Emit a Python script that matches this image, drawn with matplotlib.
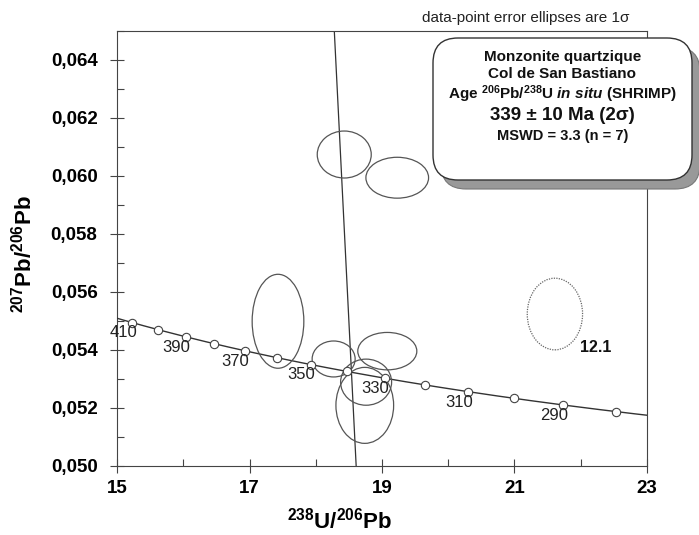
import numpy as np
import matplotlib
matplotlib.use("Agg")
import matplotlib.pyplot as plt
from matplotlib.patches import Ellipse, FancyBboxPatch
from matplotlib.ticker import FuncFormatter

plt.rcParams['font.family'] = ['Liberation Sans', 'DejaVu Sans']
plt.rcParams['mathtext.fontset'] = 'custom'
plt.rcParams['mathtext.rm'] = 'Liberation Sans:bold'
plt.rcParams['mathtext.bf'] = 'Liberation Sans:bold'
plt.rcParams['mathtext.it'] = 'Liberation Sans:italic:bold'

# decay constants (1/yr) and present-day 238U/235U
lam238 = 1.55125e-10
lam235 = 9.8485e-10
u_ratio = 137.88

# concordia: age marks (Ma) and the ones that get a label
mark_ages = [410, 400, 390, 380, 370, 360, 350, 340, 330, 320, 310, 300, 290, 280]
label_ages = [410, 390, 370, 350, 330, 310, 290]
curve_range = [270, 420]

# SHRIMP spots: centre and full size of the 1 sigma error ellipses
spot_x = [18.43, 19.23, 17.43, 18.27, 19.08, 18.76, 18.74]
spot_y = [0.06074, 0.05994, 0.05499, 0.05369, 0.05396, 0.05289, 0.05209]
spot_w = [0.815, 0.946, 0.780, 0.649, 0.891, 0.770, 0.871]
spot_h = [0.00162, 0.00141, 0.00324, 0.00124, 0.00129, 0.00159, 0.00262]

# excluded spot 12.1 (dotted)
rej_x, rej_y, rej_w, rej_h = 21.61, 0.05524, 0.835, 0.00247
rej_label = "12.1"

# regression line through the data
discordia_x = [18.28, 18.61]
discordia_y = [0.065, 0.050]

x_major = [15, 17, 19, 21, 23]
x_minor = [16, 18, 20, 22]
y_major = [0.050, 0.052, 0.054, 0.056, 0.058, 0.060, 0.062, 0.064]
y_minor = [0.051, 0.053, 0.055, 0.057, 0.059, 0.061, 0.063, 0.065]


def tera_wasserburg(age_ma):
    t = np.asarray(age_ma, dtype=float) * 1e6
    e8 = np.exp(lam238 * t) - 1
    e5 = np.exp(lam235 * t) - 1
    return 1 / e8, e5 / e8 / u_ratio


fig = plt.figure(figsize=(6.99, 5.35), dpi=100)
ax = fig.add_axes([0.1674, 0.1290, 0.7582, 0.8131])

line_col = '#333333'

# concordia curve
ages = np.linspace(curve_range[0], curve_range[1], 300)
cx, cy = tera_wasserburg(ages)
ax.plot(cx, cy, color=line_col, lw=1.0, zorder=3)

mx, my = tera_wasserburg(mark_ages)
ax.plot(mx, my, 'o', ms=6, mfc='white', mec='#444444', mew=0.8, zorder=4)
for a in label_ages:
    x, y = tera_wasserburg(a)
    ax.annotate(str(a), (x, y), xytext=(-6.5, -7.5), textcoords='offset points',
                ha='center', va='center', fontsize=12, color='#222222', zorder=5)

# discordia
ax.plot(discordia_x, discordia_y, color=line_col, lw=0.9, zorder=2)

# error ellipses
for x, y, w, h in zip(spot_x, spot_y, spot_w, spot_h):
    ax.add_patch(Ellipse((x, y), w, h, fill=False, edgecolor='#555555', lw=0.9, zorder=3))

ax.add_patch(Ellipse((rej_x, rej_y), rej_w, rej_h, fill=False, edgecolor='#666666',
                     lw=0.9, linestyle=(0, (1, 1)), zorder=3))
ax.annotate(rej_label, (rej_x, rej_y), xytext=(29, -24), textcoords='offset points',
            ha='center', va='center', fontsize=11.5, fontweight='bold', color='#111111')

ax.set_xlim(15, 23)
ax.set_ylim(0.050, 0.065)
ax.set_xticks(x_major)
ax.set_xticks(x_minor, minor=True)
ax.set_yticks(y_major)
ax.set_yticks(y_minor, minor=True)
ax.yaxis.set_major_formatter(FuncFormatter(lambda v, p: f"{v:.3f}".replace('.', ',')))
ax.tick_params(which='major', direction='inout', length=10, width=0.8, color='#444444',
               labelsize=13.5)
ax.tick_params(axis='x', which='major', pad=5)
ax.tick_params(axis='y', which='major', pad=9)
ax.tick_params(which='minor', direction='in', length=5, width=0.8, color='#444444')
for lab in ax.get_xticklabels() + ax.get_yticklabels():
    lab.set_fontweight('bold')
for s in ax.spines.values():
    s.set_color('#444444')
    s.set_linewidth(0.8)

ax.set_xlabel(r'$^{238}$U/$^{206}$Pb', fontsize=16, fontweight='bold')
ax.set_ylabel(r'$^{207}$Pb/$^{206}$Pb', fontsize=16, fontweight='bold')
ax.xaxis.label.set_va('center')
ax.yaxis.label.set_va('center')
ax.xaxis.set_label_coords(0.42, -0.126)
ax.yaxis.set_label_coords(-0.177, 0.487)

# note above the plot
fig.text(422 / 699, 1 - 18 / 535, 'data-point error ellipses are 1σ', ha='left',
         va='center', fontsize=11, color='#222222')

# result box with shadow (inches)
bx, by, bw, bh = 4.33, 3.55, 2.59, 1.42
shadow = FancyBboxPatch((bx + 0.08, by - 0.09), bw, bh,
                        boxstyle='round,pad=0,rounding_size=0.25',
                        transform=fig.dpi_scale_trans, facecolor='#999999',
                        edgecolor='#777777', lw=0.8)
box = FancyBboxPatch((bx, by), bw, bh, boxstyle='round,pad=0,rounding_size=0.25',
                     transform=fig.dpi_scale_trans, facecolor='white',
                     edgecolor='#333333', lw=1.0)
fig.add_artist(shadow)
fig.add_artist(box)

tx = (bx + bw / 2) * 100 / 699
box_lines = [
    ('Monzonite quartzique', 57, 11),
    ('Col de San Bastiano', 74, 11),
    (r'Age $^{206}$Pb/$^{238}$U $\mathit{in\ situ}$ (SHRIMP)', 94, 11),
    ('339 ± 10 Ma (2σ)', 116, 13.5),
    ('MSWD = 3.3 (n = 7)', 136, 10.5),
]
for txt, ypx, fs in box_lines:
    fig.text(tx, 1 - ypx / 535, txt, ha='center', va='center', fontsize=fs,
             fontweight='bold', color='#111111', zorder=5)

fig.savefig('out.png', dpi=100)
